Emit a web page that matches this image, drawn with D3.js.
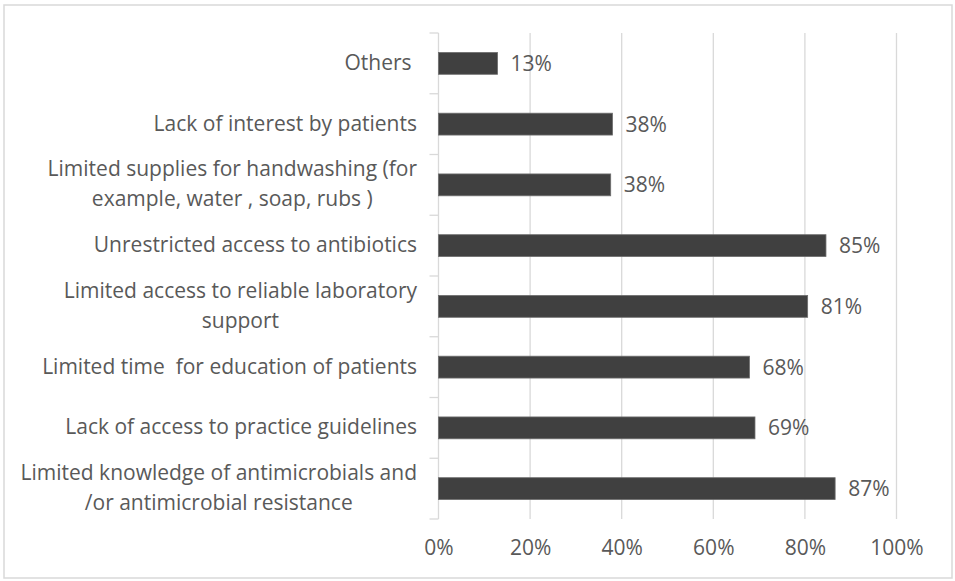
<!DOCTYPE html>
<html><head><meta charset="utf-8">
<script src="https://cdn.jsdelivr.net/npm/d3@7"></script>
<style>html,body{margin:0;padding:0;background:#fff;}svg{display:block;}text,tspan{white-space:pre;}</style>
</head><body>
<svg id="chart" width="955" height="581"></svg>
<script>
const categories = [
  ["Others "],
  ["Lack of interest by patients"],
  ["Limited supplies for handwashing (for", "example, water , soap, rubs )"],
  ["Unrestricted access to antibiotics"],
  ["Limited access to reliable laboratory", "support"],
  ["Limited time  for education of patients"],
  ["Lack of access to practice guidelines"],
  ["Limited knowledge of antimicrobials and", "/or antimicrobial resistance"]
];
const values = [12.9, 38.0, 37.6, 84.6, 80.6, 67.9, 69.1, 86.6];
const xTicks = [0, 20, 40, 60, 80, 100];

const svg = d3.select("#chart");
const W = 955, H = 581;
const m = {left: 438.5, right: 955 - 896.5, top: 33, bottom: 581 - 519};
const font = "'Open Sans', sans-serif";
const fs = 21;
const textColor = "#595959";

svg.append("rect").attr("x", 4).attr("y", 5).attr("width", 948).attr("height", 573)
  .attr("fill", "#fff").attr("stroke", "#d9d9d9").attr("stroke-width", 1.5);

const x = d3.scaleLinear().domain([0, 100]).range([m.left, W - m.right]);
const y = d3.scaleBand().domain(d3.range(categories.length)).range([m.top, H - m.bottom]).paddingInner(0.64).paddingOuter(0.32);
const yb = d3.scaleBand().domain(d3.range(categories.length)).range([m.top, H - m.bottom]);

// gridlines
svg.append("g").selectAll("line").data(xTicks.filter(d => d > 0)).join("line")
  .attr("x1", d => x(d)).attr("x2", d => x(d))
  .attr("y1", m.top).attr("y2", H - m.bottom)
  .attr("stroke", "#d9d9d9").attr("stroke-width", 1.3);

// x axis labels
const xAxis = d3.axisBottom(x).tickValues(xTicks).tickFormat(d => d + "%").tickSize(0).tickPadding(0);
const gx = svg.append("g").attr("transform", `translate(0,${H - m.bottom + 21})`).call(xAxis);
gx.select(".domain").remove();
gx.selectAll("text").attr("fill", textColor).attr("font-family", font).attr("font-size", fs).attr("dy", "0.71em");

// y axis line and ticks
svg.append("line").attr("x1", m.left).attr("x2", m.left).attr("y1", m.top).attr("y2", H - m.bottom)
  .attr("stroke", "#d9d9d9").attr("stroke-width", 1.3);
const tickYs = d3.range(categories.length + 1).map(i => m.top + i * yb.step());
svg.append("g").selectAll("line").data(tickYs).join("line")
  .attr("x1", m.left - 9).attr("x2", m.left).attr("y1", d => d).attr("y2", d => d)
  .attr("stroke", "#d9d9d9").attr("stroke-width", 1.3);

// bars
svg.append("g").selectAll("rect").data(values).join("rect")
  .attr("x", x(0)).attr("y", (d, i) => y(i))
  .attr("width", d => x(d) - x(0)).attr("height", y.bandwidth())
  .attr("fill", "#404040").attr("stroke", "#6e6e6e").attr("stroke-width", 0.8);

// value labels
svg.append("g").selectAll("text").data(values).join("text")
  .attr("x", d => x(d) + 13).attr("y", (d, i) => y(i) + y.bandwidth() / 2)
  .attr("dy", "0.36em").attr("fill", textColor).attr("font-family", font).attr("font-size", fs)
  .text(d => d3.format(".0f")(d) + "%");

// category labels
const lineH = 30;
const cl = svg.append("g").selectAll("text").data(categories).join("text")
  .attr("text-anchor", "middle").attr("fill", textColor).attr("font-family", font).attr("font-size", fs);
cl.each(function(lines, i) {
  const t = d3.select(this);
  const cy = yb(i) + yb.bandwidth() / 2 - 1;
  const n = lines.length;
  lines.forEach((ln, k) => {
    t.append("tspan").attr("y", cy + (k - (n - 1) / 2) * lineH).attr("dy", "0.36em").text(ln);
  });
});
cl.each(function() {
  const t = d3.select(this);
  const tspans = t.selectAll("tspan").nodes();
  const widths = tspans.map(n => n.getComputedTextLength());
  const maxW = d3.max(widths);
  const centerX = 417 - maxW / 2;
  tspans.forEach(n => d3.select(n).attr("x", centerX));
});
</script>
</body></html>
